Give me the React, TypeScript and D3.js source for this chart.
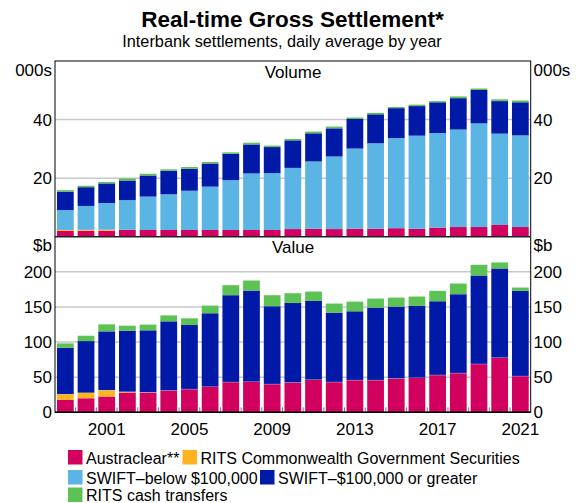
import React from "react";
import * as d3 from "d3";

const years = d3.range(1999, 2022);
const yearLabels = [2001, 2005, 2009, 2013, 2017, 2021];

// Volume, thousands
const austraclearVol = [2.0, 2.0, 2.0, 2.3, 2.3, 2.3, 2.3, 2.3, 2.3, 2.3, 2.3, 2.6, 2.7, 2.6, 2.7, 2.7, 2.9, 2.7, 3.1, 3.3, 3.3, 4.0, 3.3];
const ritsCgsVol = [0.3, 0.35, 0.4, 0.05, 0, 0, 0, 0, 0, 0, 0, 0, 0, 0, 0, 0, 0, 0, 0, 0, 0, 0, 0];
const swiftBelowVol = [6.8, 8.15, 9.1, 10.15, 11.4, 12.2, 13.4, 14.8, 17.0, 19.3, 19.4, 20.9, 23.0, 24.8, 27.4, 29.2, 30.8, 31.8, 32.3, 33.3, 35.4, 31.2, 31.3];
const swiftAboveVol = [6.3, 6.4, 6.7, 6.7, 7.2, 8.0, 7.5, 7.9, 9.0, 9.9, 8.9, 9.4, 9.6, 9.6, 10.1, 9.9, 10.2, 10.1, 10.5, 10.7, 11.4, 11.1, 11.3];
const ritsCashVol = [0.5, 0.5, 0.5, 0.7, 0.6, 0.5, 0.6, 0.5, 0.5, 0.6, 0.5, 0.5, 0.6, 0.6, 0.5, 0.5, 0.4, 0.5, 0.4, 0.6, 0.5, 0.6, 0.6];

// Value, $b
const austraclearVal = [17.6, 20, 22.4, 28.1, 28.1, 31.0, 32.9, 36.2, 42.9, 43.3, 40, 42.4, 46.2, 42.9, 45.7, 45.7, 48.1, 49, 52.9, 55.7, 68.6, 77.6, 51.4];
const ritsCgsVal = [8.1, 7.6, 9.0, 0.9, 0.3, 0, 0, 0, 0, 0, 0, 0, 0, 0, 0, 0, 0, 0, 0, 0, 0, 0, 0];
const swiftBelowVal = [0.4, 0.4, 0.4, 0.4, 0.4, 0.4, 0.4, 0.4, 0.4, 0.4, 0.4, 0.4, 0.4, 0.4, 0.4, 0.4, 0.4, 0.4, 0.4, 0.4, 0.4, 0.4, 0.4];
const swiftAboveVal = [65.8, 73.4, 83.4, 86.8, 87.9, 98.1, 91.0, 104.4, 123.4, 129.6, 110.6, 112.9, 112.0, 98.6, 97.7, 102.9, 102.0, 102.0, 104.8, 112.0, 125.8, 126.8, 121.1];
const ritsCashVal = [6.2, 7.6, 10.0, 7.1, 8.1, 8.5, 9.5, 10.9, 14.3, 14.3, 15.7, 13.8, 13.3, 12.9, 13.8, 12.9, 12.8, 13.4, 14.8, 15.2, 15.2, 8.5, 4.7];

const seriesNames = ["Austraclear**", "RITS Commonwealth Government Securities", "SWIFT–below $100,000", "SWIFT–$100,000 or greater", "RITS cash transfers"];
const colors = ["#D2005F", "#FFB41E", "#5AB4E4", "#0019A6", "#5CC254"];

const volTicks = [20, 40];
const valTicks = [0, 50, 100, 150, 200];

const W = 580, H = 503;
const L = 55, R = 530.7;
const T1 = 61, B1 = 236.7, B2 = 412.3;
const FONT = "'Liberation Sans', Arial, sans-serif";

function stackRows(arrs: number[][]) {
  return years.map((y, i) => {
    const row: any = { year: y };
    arrs.forEach((a, k) => (row["s" + k] = a[i]));
    return row;
  });
}

export default function App() {
  const x = d3.scaleBand<number>().domain(years).range([L, R]).paddingInner(0.19).paddingOuter(0.095);
  const yVol = d3.scaleLinear().domain([0, 60]).range([B1, T1]);
  const yVal = d3.scaleLinear().domain([0, 250]).range([B2, B1]);
  const keys = [0, 1, 2, 3, 4].map((k) => "s" + k);
  const stack = d3.stack<any>().keys(keys);
  const volStack = stack(stackRows([austraclearVol, ritsCgsVol, swiftBelowVol, swiftAboveVol, ritsCashVol]));
  const valStack = stack(stackRows([austraclearVal, ritsCgsVal, swiftBelowVal, swiftAboveVal, ritsCashVal]));
  const step = x.step();
  const gap = step * 0.19;

  const bars = (st: any[], y: d3.ScaleLinear<number, number>) =>
    st.map((layer, k) => (
      <g key={k} fill={colors[k]}>
        {layer.map((d: any) => {
          const h = y(d[0]) - y(d[1]);
          if (h <= 0) return null;
          return <rect key={d.data.year} x={x(d.data.year)} y={y(d[1])} width={x.bandwidth()} height={h} />;
        })}
      </g>
    ));

  const legendItems = [
    { k: 0, x: 68, y: 450 },
    { k: 1, x: 182.5, y: 450 },
    { k: 2, x: 68, y: 470 },
    { k: 3, x: 260, y: 470 },
    { k: 4, x: 68, y: 487.5 },
  ];

  return (
    <svg width={W} height={H} style={{ position: "absolute", left: 0, top: 0 }} fontFamily={FONT}>
      <rect width={W} height={H} fill="#fff" />
      <text x={292.5} y={27} textAnchor="middle" fontSize={22.5} fontWeight="bold">Real-time Gross Settlement*</text>
      <text x={282} y={46.5} textAnchor="middle" fontSize={16.3}>Interbank settlements, daily average by year</text>

      {/* gridlines */}
      {volTicks.map((t) => (
        <line key={"gv" + t} x1={L} x2={R} y1={yVol(t)} y2={yVol(t)} stroke="#c8c8c8" strokeWidth={1.5} />
      ))}
      {valTicks.filter((t) => t > 0).map((t) => (
        <line key={"gb" + t} x1={L} x2={R} y1={yVal(t)} y2={yVal(t)} stroke="#c8c8c8" strokeWidth={1.5} />
      ))}

      {bars(volStack, yVol)}
      {bars(valStack, yVal)}

      {/* year boundary ticks */}
      {years.slice(1).map((yr) => {
        const xx = (x(yr) as number) - gap / 2;
        return <line key={"t" + yr} x1={xx} x2={xx} y1={B2} y2={B2 - 5} stroke="#777" strokeWidth={1} />;
      })}

      {/* frame */}
      <rect x={L} y={T1} width={R - L} height={B2 - T1} fill="none" stroke="#000" strokeWidth={1} />
      <line x1={L} x2={R} y1={B1} y2={B1} stroke="#222" strokeWidth={1.5} />
      <line x1={L} x2={R} y1={B2} y2={B2} stroke="#000" strokeWidth={1.5} />

      {/* panel labels */}
      <text x={293} y={77.5} textAnchor="middle" fontSize={17}>Volume</text>
      <text x={293} y={253} textAnchor="middle" fontSize={17}>Value</text>

      {/* y axis labels */}
      <text x={52} y={75.7} textAnchor="end" fontSize={17}>000s</text>
      <text x={533.5} y={75.7} textAnchor="start" fontSize={17}>000s</text>
      <text x={52} y={250.5} textAnchor="end" fontSize={17}>$b</text>
      <text x={533.5} y={250.5} textAnchor="start" fontSize={17}>$b</text>
      {volTicks.map((t) => (
        <g key={"lv" + t}>
          <text x={52} y={yVol(t) + 6} textAnchor="end" fontSize={17}>{t}</text>
          <text x={533.5} y={yVol(t) + 6} textAnchor="start" fontSize={17}>{t}</text>
        </g>
      ))}
      {valTicks.map((t) => (
        <g key={"lb" + t}>
          <text x={52} y={yVal(t) + 6} textAnchor="end" fontSize={17}>{t}</text>
          <text x={533.5} y={yVal(t) + 6} textAnchor="start" fontSize={17}>{t}</text>
        </g>
      ))}

      {/* x labels */}
      {yearLabels.map((yr) => (
        <text key={"x" + yr} x={(x(yr) as number) + x.bandwidth() / 2} y={435} textAnchor="middle" fontSize={17}>{yr}</text>
      ))}

      {/* legend */}
      {legendItems.map((it) => (
        <g key={"lg" + it.k}>
          <rect x={it.x} y={it.y} width={14.5} height={14.5} fill={colors[it.k]} />
          <text x={it.x + 18} y={it.y + 13.5} fontSize={16}>{seriesNames[it.k]}</text>
        </g>
      ))}
    </svg>
  );
}
